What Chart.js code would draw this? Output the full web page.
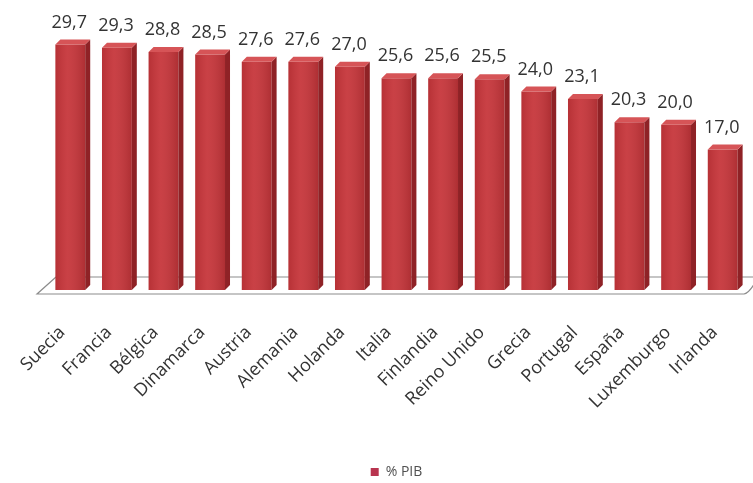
<!DOCTYPE html>
<html>
<head>
<meta charset="utf-8">
<script src="https://cdn.jsdelivr.net/npm/chart.js@4/dist/chart.umd.min.js"></script>
<style>
  html, body { margin: 0; padding: 0; background: #ffffff; }
  #wrap { width: 753px; height: 483px; }
</style>
</head>
<body>
<div id="wrap"><canvas id="grafico"></canvas></div>
<script>
// datos
const paises = ['Suecia', 'Francia', 'Bélgica', 'Dinamarca', 'Austria', 'Alemania', 'Holanda',
  'Italia', 'Finlandia', 'Reino Unido', 'Grecia', 'Portugal', 'España', 'Luxemburgo', 'Irlanda'];
const pib = [29.7, 29.3, 28.8, 28.5, 27.6, 27.6, 27.0, 25.6, 25.6, 25.5, 24.0, 23.1, 20.3, 20.0, 17.0];
const nombreSerie = '% PIB';

const PROF = 5; // profundidad del efecto 3D

// suelo en perspectiva detras de las barras
const sueloPlugin = {
  id: 'suelo',
  beforeDatasetsDraw(chart) {
    const { ctx, chartArea: a } = chart;
    const b = chart.scales.y.getPixelForValue(0);
    ctx.save();
    ctx.strokeStyle = '#8c8c8c';
    ctx.lineWidth = 1.2;
    ctx.beginPath();
    ctx.moveTo(a.left + 9, b - 13);
    ctx.lineTo(a.right + 12, b - 13);
    ctx.moveTo(a.left + 9, b - 13);
    ctx.lineTo(a.left - 10, b + 4);
    ctx.lineTo(a.right - 2, b + 4);
    ctx.quadraticCurveTo(a.right + 4, b + 3, a.right + 12, b - 13);
    ctx.stroke();
    ctx.restore();
  }
};

// caras laterales, superior y etiquetas
const barras3D = {
  id: 'barras3D',
  afterDatasetsDraw(chart) {
    const { ctx } = chart;
    const meta = chart.getDatasetMeta(0);
    ctx.save();
    meta.data.forEach((bar, i) => {
      const izq = bar.x - bar.width / 2;
      const der = bar.x + bar.width / 2;
      // sombreado del frente
      const g = ctx.createLinearGradient(izq, 0, der, 0);
      g.addColorStop(0, 'rgba(0,0,0,0.08)');
      g.addColorStop(0.4, 'rgba(255,255,255,0.06)');
      g.addColorStop(1, 'rgba(0,0,0,0.12)');
      ctx.fillStyle = g;
      ctx.fillRect(izq, bar.y, bar.width, bar.base - bar.y);
      // lado
      ctx.fillStyle = '#8f2226';
      ctx.beginPath();
      ctx.moveTo(der, bar.y);
      ctx.lineTo(der + PROF, bar.y - PROF);
      ctx.lineTo(der + PROF, bar.base - PROF);
      ctx.lineTo(der, bar.base);
      ctx.closePath();
      ctx.fill();
      // tapa
      ctx.fillStyle = '#d65457';
      ctx.beginPath();
      ctx.moveTo(izq, bar.y);
      ctx.lineTo(izq + PROF, bar.y - PROF);
      ctx.lineTo(der + PROF, bar.y - PROF);
      ctx.lineTo(der, bar.y);
      ctx.closePath();
      ctx.fill();
      // etiqueta
      ctx.fillStyle = '#333333';
      ctx.font = '18px "Open Sans"';
      ctx.textAlign = 'center';
      ctx.textBaseline = 'middle';
      ctx.fillText(pib[i].toFixed(1).replace('.', ','), bar.x - 1, bar.y - 22);
    });
    ctx.restore();
  }
};

new Chart(document.getElementById('grafico'), {
  type: 'bar',
  data: {
    labels: paises,
    datasets: [{
      label: nombreSerie,
      data: pib,
      backgroundColor: '#c6353a',
      borderWidth: 0,
      barPercentage: 0.64,
      categoryPercentage: 1
    }]
  },
  options: {
    responsive: true,
    maintainAspectRatio: false,
    animation: false,
    layout: { padding: { top: 42, left: 47, right: 7, bottom: -6 } },
    plugins: {
      tooltip: { enabled: false },
      legend: {
        position: 'bottom',
        labels: {
          color: '#505050',
          font: { family: 'Open Sans', size: 14 },
          boxWidth: 8,
          boxHeight: 8,
          padding: 10,
          generateLabels(chart) {
            const items = Chart.defaults.plugins.legend.labels.generateLabels(chart);
            items.forEach(it => { it.fillStyle = '#b8344f'; it.strokeStyle = '#b8344f'; });
            return items;
          }
        }
      }
    },
    scales: {
      y: {
        display: false,
        min: 0,
        max: 30
      },
      x: {
        grid: { display: false, drawTicks: false },
        border: { display: false },
        ticks: {
          color: '#333333',
          font: { family: 'Open Sans', size: 18 },
          autoSkip: false,
          minRotation: 45,
          maxRotation: 45,
          padding: 32,
          labelOffset: -8
        },
        afterFit(scale) {
          scale.height = 165;
          scale.paddingLeft = 0;
          scale.paddingRight = 0;
        }
      }
    }
  },
  plugins: [sueloPlugin, barras3D]
});
</script>
</body>
</html>
